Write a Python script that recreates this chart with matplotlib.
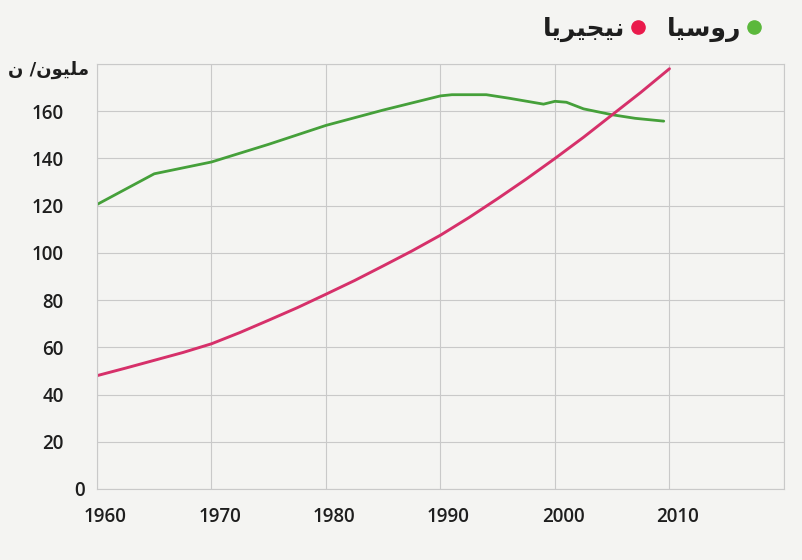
import matplotlib
matplotlib.use("Agg")
import matplotlib.pyplot as plt
from matplotlib.lines import Line2D
from matplotlib.transforms import ScaledTranslation

# population, millions
nigeria_years = [1960, 1962.5, 1965, 1967.5, 1970, 1972.5, 1975, 1977.5, 1980, 1982.5,
                 1985, 1987.5, 1990, 1992.5, 1995, 1997.5, 2000, 2002.5, 2005, 2007.5, 2010]
nigeria_pop = [48, 51.2, 54.5, 57.8, 61.5, 66.3, 71.5, 76.8, 82.5, 88.3,
               94.5, 100.8, 107.5, 115, 123, 131.3, 140, 149, 158.5, 168, 178]

russia_years = [1960, 1965, 1970, 1975, 1980, 1985, 1990, 1991, 1994, 1996, 1999,
                2000, 2001, 2002.5, 2005, 2007, 2009.5]
russia_pop = [120.5, 133.5, 138.5, 146, 154, 160.5, 166.5, 167, 167, 165.5, 163,
              164.2, 163.8, 161, 158.5, 157, 155.8]

x_ticks = [1960, 1970, 1980, 1990, 2000, 2010]
y_ticks = [0, 20, 40, 60, 80, 100, 120, 140, 160]

unit_label = "مليون/ ن"
nigeria_label = "نيجيريا"
russia_label = "روسيا"

# matplotlib has no arabic shaping, so pick the joined letter forms by hand
# (isolated, final, initial, medial) and lay the string out left to right
FORMS = {
    'ا': ('\uFE8D', '\uFE8E', None, None),
    'ج': ('\uFE9D', '\uFE9E', '\uFE9F', '\uFEA0'),
    'ر': ('\uFEAD', '\uFEAE', None, None),
    'س': ('\uFEB1', '\uFEB2', '\uFEB3', '\uFEB4'),
    'ل': ('\uFEDD', '\uFEDE', '\uFEDF', '\uFEE0'),
    'م': ('\uFEE1', '\uFEE2', '\uFEE3', '\uFEE4'),
    'ن': ('\uFEE5', '\uFEE6', '\uFEE7', '\uFEE8'),
    'و': ('\uFEED', '\uFEEE', None, None),
    'ي': ('\uFEF1', '\uFEF2', '\uFEF3', '\uFEF4'),
}

def shape(text):
    out = []
    for i, ch in enumerate(text):
        f = FORMS.get(ch)
        if f is None:
            out.append(ch)
            continue
        prev = text[i - 1] if i > 0 else ''
        nxt = text[i + 1] if i + 1 < len(text) else ''
        joins_prev = prev in FORMS and FORMS[prev][2] is not None
        joins_next = f[2] is not None and nxt in FORMS
        if joins_prev and joins_next:
            out.append(f[3])
        elif joins_prev:
            out.append(f[1])
        elif joins_next:
            out.append(f[2])
        else:
            out.append(f[0])
    return ''.join(reversed(out))

bg = '#f4f4f2'
grid_col = '#c9c9c9'
green_line = '#45a03a'
red_line = '#d6306a'
green_dot = '#5bb83c'
red_dot = '#ea1a4c'
text_col = '#1e1e1e'

fig = plt.figure(figsize=(8.03, 5.6), dpi=100, facecolor=bg)
ax = fig.add_axes([0.1208, 0.1268, 0.8555, 0.7589])
ax.set_facecolor(bg)

ax.plot(russia_years, russia_pop, color=green_line, lw=2.0, solid_capstyle='round')
ax.plot(nigeria_years, nigeria_pop, color=red_line, lw=2.1, solid_capstyle='round')

ax.set_xlim(1960, 2020)
ax.set_ylim(0, 180)
ax.set_xticks(x_ticks + [2020])
ax.set_xticklabels([str(v) for v in x_ticks] + [''])
ax.set_yticks(y_ticks + [180])
ax.set_yticklabels([str(v) for v in y_ticks] + [''])

ax.grid(True, color=grid_col, lw=0.8)
ax.set_axisbelow(True)
for s in ax.spines.values():
    s.set_color(grid_col)
    s.set_linewidth(0.8)

ax.tick_params(axis='both', length=0, colors=text_col, labelsize=13.5)
ax.tick_params(axis='x', pad=13)
ax.tick_params(axis='y', pad=24)
for lbl in ax.get_xticklabels() + ax.get_yticklabels():
    lbl.set_fontfamily('Open Sans')
    lbl.set_fontweight('semibold')

# year labels sit a little right of their gridlines, the zero a little closer to the axis
for lbl in ax.get_xticklabels():
    lbl.set_transform(lbl.get_transform() + ScaledTranslation(0.08, 0, fig.dpi_scale_trans))
zero = ax.get_yticklabels()[0]
zero.set_transform(zero.get_transform() + ScaledTranslation(0.21, 0, fig.dpi_scale_trans))

fig.text(0.061, 0.875, shape(unit_label), ha='center', va='center',
         fontsize=13, fontweight='bold', family='DejaVu Sans', color=text_col)

handles = [
    Line2D([], [], ls='none', marker='o', ms=9.5, color=red_dot, label=shape(nigeria_label)),
    Line2D([], [], ls='none', marker='o', ms=9.5, color=green_dot, label=shape(russia_label)),
]
ax.legend(handles=handles, ncol=2, markerfirst=False, frameon=False,
          loc='center right', bbox_to_anchor=(0.9465, 0.948),
          bbox_transform=fig.transFigure, borderpad=0, borderaxespad=0,
          handlelength=0.5, handletextpad=0.25, columnspacing=0.9,
          prop={'family': 'DejaVu Sans', 'weight': 'bold', 'size': 18},
          labelcolor=text_col)

fig.savefig('out.png', dpi=100, facecolor=bg)
